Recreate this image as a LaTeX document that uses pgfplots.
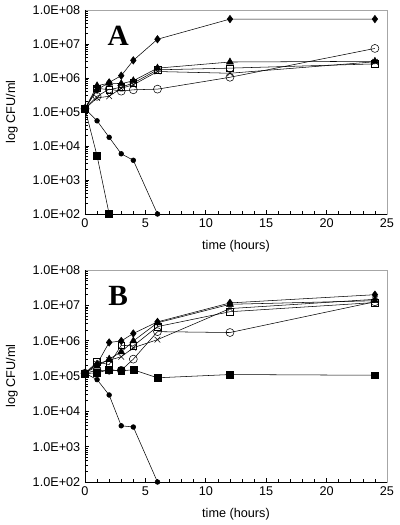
\documentclass[border=0pt]{standalone}
\usepackage{fontspec}
\setmainfont{Liberation Sans}
\newfontfamily\serifbold{Liberation Serif}
\usepackage{pgfplots}
\pgfplotsset{compat=1.18}
\begin{document}
\begin{tikzpicture}
% Panel A
\begin{axis}[
    scale only axis,
    width=226.5pt, height=153pt, at={(0pt,201pt)}, anchor=south west,
    ymode=log,
    xmin=0, xmax=25, ymin=1e2, ymax=1e8,
    xtick={0,5,10,15,20,25},
    xticklabels={0,5,10,15,20,25},
    minor x tick num=4,
    ytick={1e2,1e3,1e4,1e5,1e6,1e7,1e8},
    yticklabels={1.0E+02,1.0E+03,1.0E+04,1.0E+05,1.0E+06,1.0E+07,1.0E+08},
    tick label style={font=\fontsize{9.5}{11}\selectfont},
    label style={font=\fontsize{9.5}{11}\selectfont},
    tick align=inside,
    major tick length=3pt,
    minor tick length=2.2pt,
    tick style={black, line width=0.5pt},
    axis line style={gray!70, line width=0.6pt},
    xtick pos=bottom, ytick pos=left,
    clip=false,
    ylabel={log CFU/ml},
    ylabel style={at={(axis description cs:-0.242,0.5)}, anchor=center},
    xlabel={time (hours)},
    xlabel style={at={(axis description cs:0.5,0)}, anchor=center, yshift=-24pt},
]
\addplot[black, mark=*, mark size=1.8pt] coordinates {(0,1.25e5) (1,5.5e4) (2,1.8e4) (3,5.9e3) (4,3.8e3) (6,1e2)};
\addplot[black, mark=square*, mark size=2.6pt] coordinates {(0,1.25e5) (1,5.1e3) (2,1e2)};
\addplot[black, mark=o, mark size=3pt, mark options={fill=white}] coordinates {(0,1.25e5) (1,2.9e5) (2,4.7e5) (3,4.1e5) (4,4.5e5) (6,4.7e5) (12,1.05e6) (24,7.4e6)};
\addplot[black, mark=x, mark size=3pt] coordinates {(0,1.25e5) (1,2.6e5) (2,2.9e5) (3,5.0e5) (4,6.3e5) (6,1.55e6) (12,1.38e6) (24,3.0e6)};
\addplot[black, mark=square, mark size=2.5pt, mark options={fill=white}] coordinates {(0,1.25e5) (1,5.0e5) (2,4.5e5) (3,5.4e5) (4,7.1e5) (6,1.74e6) (12,1.95e6) (24,2.6e6)};
\addplot[black, mark=triangle*, mark size=3pt] coordinates {(0,1.25e5) (1,5.9e5) (2,7.1e5) (3,6.8e5) (4,8.3e5) (6,1.95e6) (12,2.95e6) (24,3.1e6)};
\addplot[black, mark=diamond*, mark size=2.8pt] coordinates {(0,1.25e5) (1,4.5e5) (2,7.4e5) (3,1.17e6) (4,3.3e6) (6,1.38e7) (12,5.4e7) (24,5.4e7)};
\draw[black, line width=0.6pt] (rel axis cs:0,1) -- (rel axis cs:0,0) -- (rel axis cs:1,0);
\node[font=\serifbold\bfseries\fontsize{22}{24}\selectfont] at (rel axis cs:0.11,0.875) {A};
\end{axis}
% Panel B
\begin{axis}[
    scale only axis,
    width=226.5pt, height=159pt, at={(0pt,0pt)}, anchor=south west,
    ymode=log,
    xmin=0, xmax=25, ymin=1e2, ymax=1e8,
    xtick={0,5,10,15,20,25},
    xticklabels={0,5,10,15,20,25},
    minor x tick num=4,
    ytick={1e2,1e3,1e4,1e5,1e6,1e7,1e8},
    yticklabels={1.0E+02,1.0E+03,1.0E+04,1.0E+05,1.0E+06,1.0E+07,1.0E+08},
    tick label style={font=\fontsize{9.5}{11}\selectfont},
    label style={font=\fontsize{9.5}{11}\selectfont},
    tick align=inside,
    major tick length=3pt,
    minor tick length=2.2pt,
    tick style={black, line width=0.5pt},
    axis line style={gray!70, line width=0.6pt},
    xtick pos=bottom, ytick pos=left,
    clip=false,
    ylabel={log CFU/ml},
    ylabel style={at={(axis description cs:-0.242,0.5)}, anchor=center},
    xlabel={time (hours)},
    xlabel style={at={(axis description cs:0.5,0)}, anchor=center, yshift=-24pt},
]
\addplot[black, mark=*, mark size=1.8pt] coordinates {(0,1.2e5) (1,7.9e4) (2,2.9e4) (3,3.9e3) (4,3.6e3) (6,1e2)};
\addplot[black, mark=square*, mark size=2.6pt] coordinates {(0,1.17e5) (1,1.23e5) (2,1.5e5) (3,1.4e5) (4,1.5e5) (6,8.9e4) (12,1.1e5) (24,1.05e5)};
\addplot[black, mark=o, mark size=3pt, mark options={fill=white}] coordinates {(0,1.2e5) (1,1.45e5) (2,1.45e5) (3,1.45e5) (4,3.0e5) (6,1.8e6) (12,1.7e6) (24,1.26e7)};
\addplot[black, mark=x, mark size=3pt] coordinates {(0,1.2e5) (1,2.2e5) (2,2.8e5) (3,3.5e5) (4,6.3e5) (6,1.07e6) (12,8.1e6) (24,1.48e7)};
\addplot[black, mark=square, mark size=2.5pt, mark options={fill=white}] coordinates {(0,1.2e5) (1,2.5e5) (2,2.1e5) (3,7.4e5) (4,7.1e5) (6,2.5e6) (12,6.6e6) (24,1.2e7)};
\addplot[black, mark=triangle*, mark size=3pt] coordinates {(0,1.2e5) (1,1.9e5) (2,3.0e5) (3,4.8e5) (4,9.8e5) (6,3.2e6) (12,1.07e7) (24,1.35e7)};
\addplot[black, mark=diamond*, mark size=2.8pt] coordinates {(0,1.2e5) (1,2.2e5) (2,8.9e5) (3,9.8e5) (4,1.6e6) (6,3.4e6) (12,1.17e7) (24,2.0e7)};
\draw[black, line width=0.6pt] (rel axis cs:0,1) -- (rel axis cs:0,0) -- (rel axis cs:1,0);
\node[font=\serifbold\bfseries\fontsize{22}{24}\selectfont] at (rel axis cs:0.11,0.88) {B};
\end{axis}
\useasboundingbox (-63.75pt,-32.25pt) rectangle (236.25pt,361.5pt);
\end{tikzpicture}
\end{document}
